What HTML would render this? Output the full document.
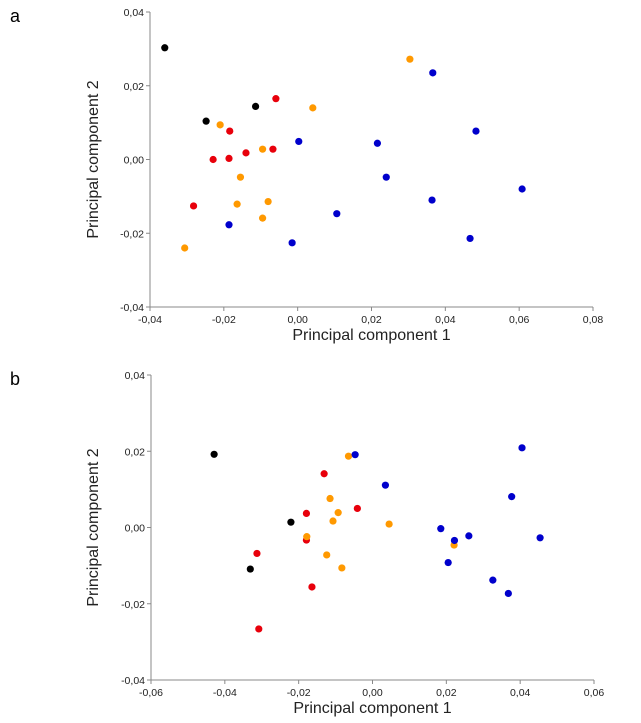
<!DOCTYPE html>
<html><head><meta charset="utf-8"><style>
body{margin:0;background:#fff;width:641px;height:723px;overflow:hidden}
svg{display:block;font-family:"Liberation Sans",sans-serif}
</style></head><body>
<svg id="s" width="641" height="723"></svg>
<script>
const aBlack=[[-0.036,0.0303],[-0.0248,0.0104],[-0.0114,0.0144]];
const aRed=[[-0.0059,0.0165],[-0.0184,0.0077],[-0.0229,0.0],[-0.0186,0.0003],[-0.014,0.0018],[-0.0067,0.0028],[-0.0282,-0.0126]];
const aOrange=[[0.0304,0.0272],[0.0041,0.014],[-0.021,0.0094],[-0.0095,0.0028],[-0.0155,-0.0048],[-0.0164,-0.0121],[-0.008,-0.0114],[-0.0095,-0.0159],[-0.0306,-0.024]];
const aBlue=[[0.0366,0.0235],[0.0483,0.0077],[0.0003,0.0049],[0.0216,0.0044],[0.024,-0.0048],[0.0608,-0.008],[0.0364,-0.011],[0.0106,-0.0147],[-0.0186,-0.0177],[-0.0015,-0.0226],[0.0467,-0.0214]];
const bBlack=[[-0.0429,0.0192],[-0.0221,0.0014],[-0.0331,-0.0109]];
const bRed=[[-0.0131,0.0141],[-0.0179,0.0037],[-0.0041,0.005],[-0.0179,-0.0033],[-0.0313,-0.0068],[-0.0164,-0.0156],[-0.0308,-0.0266]];
const bOrange=[[-0.0065,0.0187],[-0.0115,0.0076],[-0.0093,0.0039],[-0.0107,0.0017],[0.0045,0.0009],[-0.0178,-0.0024],[-0.0124,-0.0072],[-0.0083,-0.0106],[0.0221,-0.0046]];
const bBlue=[[-0.0047,0.0191],[0.0035,0.0111],[0.0405,0.0209],[0.0377,0.0081],[0.0185,-0.0003],[0.0222,-0.0034],[0.0261,-0.0022],[0.0454,-0.0027],[0.0205,-0.0092],[0.0326,-0.0138],[0.0368,-0.0173]];
const aXTicks=["-0,04","-0,02","0,00","0,02","0,04","0,06","0,08"];
const bXTicks=["-0,06","-0,04","-0,02","0,00","0,02","0,04","0,06"];
const yTicks=["0,04","0,02","0,00","-0,02","-0,04"];
const NS="http://www.w3.org/2000/svg";
const svg=document.getElementById('s');
function el(t,a,p){const e=document.createElementNS(NS,t);for(const k in a)e.setAttribute(k,a[k]);(p||svg).appendChild(e);return e;}
function panel(cfg){
  const g=el('g',{});
  
  
  const X=v=>cfg.x0+(v-cfg.xmin)/(cfg.xmax-cfg.xmin)*(cfg.x1-cfg.x0);
  const Y=v=>cfg.y1-(v-cfg.ymin)/(cfg.ymax-cfg.ymin)*(cfg.y1-cfg.y0);
  const lab=el('text',{x:10,y:cfg.y0+10,'font-size':18,fill:'#000'},g);lab.textContent=cfg.id;
  
  
  const ax=el('path',{d:`M${cfg.x0},${cfg.y0}V${cfg.y1}H${cfg.x1}`,stroke:'#888',fill:'none','stroke-width':1},g);
  
  
  cfg.xt.forEach((t,i)=>{const v=cfg.xmin+i*(cfg.xmax-cfg.xmin)/(cfg.xt.length-1);const x=X(v);
    el('line',{x1:x,x2:x,y1:cfg.y1,y2:cfg.y1+4,stroke:'#888'},g);
    const tx=el('text',{x:x,y:cfg.y1+16,'font-size':10.5,'text-anchor':'middle',fill:'#222'},g);tx.textContent=t;
    
    });
  yTicks.forEach((t,i)=>{const v=cfg.ymax-i*(cfg.ymax-cfg.ymin)/(yTicks.length-1);const y=Y(v);
    el('line',{x1:cfg.x0-4,x2:cfg.x0,y1:y,y2:y,stroke:'#888'},g);
    const tx=el('text',{x:cfg.x0-6,y:y+4,'font-size':10.5,'text-anchor':'end',fill:'#222'},g);tx.textContent=t;
    
    });
  const xt=el('text',{x:(cfg.x0+cfg.x1)/2,y:cfg.y1+33,'font-size':16,'text-anchor':'middle',fill:'#222'},g);xt.textContent='Principal component 1';
  
  
  const cy=(cfg.y0+cfg.y1)/2;
  const yt=el('text',{x:98,y:cy,'font-size':16,'text-anchor':'middle',fill:'#222',transform:`rotate(-90 98 ${cy})`},g);yt.textContent='Principal component 2';
  
  
  cfg.series.forEach(([arr,col,name])=>arr.forEach(p=>{const c=el('circle',{cx:X(p[0]),cy:Y(p[1]),r:3.6,fill:col},g);
    
    }));
}
panel({id:'a',x0:150,x1:593,y0:12,y1:307,xmin:-0.04,xmax:0.08,ymin:-0.04,ymax:0.04,xt:aXTicks,
  series:[[aBlack,'#000','black'],[aRed,'#e8000b','red'],[aOrange,'#ff9900','orange'],[aBlue,'#0000cc','blue']]});
panel({id:'b',x0:151,x1:594,y0:375,y1:680,xmin:-0.06,xmax:0.06,ymin:-0.04,ymax:0.04,xt:bXTicks,
  series:[[bBlack,'#000','black'],[bRed,'#e8000b','red'],[bOrange,'#ff9900','orange'],[bBlue,'#0000cc','blue']]});
</script>
</body></html>
